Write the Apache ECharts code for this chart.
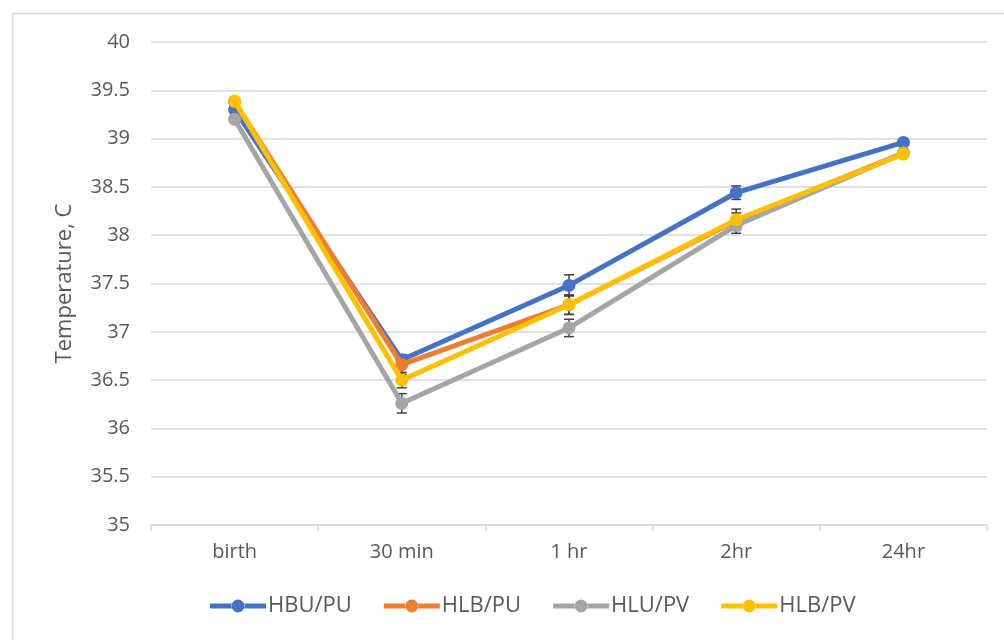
<!DOCTYPE html>
<html><head><meta charset="utf-8">
<script src="https://cdn.jsdelivr.net/npm/echarts@6/dist/echarts.min.js"></script>
<style>html,body{margin:0;padding:0;background:#fff}#c{width:1004px;height:640px}</style>
</head><body><div id="c"></div>
<script>
const categories = ['birth', '30 min', '1 hr', '2hr', '24hr'];
const seriesNames = ['HBU/PU', 'HLB/PU', 'HLU/PV', 'HLB/PV'];
const colors = ['#4472C4', '#ED7D31', '#A5A5A5', '#FFC000'];
const hbuPu = [39.30, 36.71, 37.48, 38.44, 38.96];
const hlbPu = [39.38, 36.66, 37.28, 38.15, 38.85];
const hluPv = [39.20, 36.26, 37.04, 38.10, 38.85];
const hlbPv = [39.39, 36.50, 37.28, 38.16, 38.84];
const hbuPuErr = [0.03, 0.05, 0.11, 0.07, 0.03];
const hlbPuErr = [0.03, 0.10, 0.10, 0.08, 0.03];
const hluPvErr = [0.03, 0.10, 0.09, 0.08, 0.03];
const hlbPvErr = [0.03, 0.08, 0.10, 0.11, 0.03];
const yTicks = [35, 35.5, 36, 36.5, 37, 37.5, 38, 38.5, 39, 39.5, 40];

const values = [hbuPu, hlbPu, hluPv, hlbPv];
const errs = [hbuPuErr, hlbPuErr, hluPvErr, hlbPvErr];
const font = '"Open Sans", "Noto Sans", sans-serif';
const txt = '#595959';
const legendIcon = 'path://M0,4 L22,4 L22,9 L0,9 Z M34,4 L56,4 L56,9 L34,9 Z M21.5,6.5 A6.5,6.5 0 1 0 34.5,6.5 A6.5,6.5 0 1 0 21.5,6.5 Z';

const series = [];
values.forEach((vals, si) => {
  series.push({
    type: 'custom', name: seriesNames[si] + ' err', z: 1,
    renderItem: function (params, api) {
      const x = api.value(0), lo = api.value(1), hi = api.value(2);
      const p1 = api.coord([x, lo]), p2 = api.coord([x, hi]);
      const w = 5;
      const st = {stroke: '#404040', lineWidth: 1.5};
      return {type: 'group', children: [
        {type: 'line', shape: {x1: p1[0], y1: p1[1], x2: p2[0], y2: p2[1]}, style: st},
        {type: 'line', shape: {x1: p1[0] - w, y1: p1[1], x2: p1[0] + w, y2: p1[1]}, style: st},
        {type: 'line', shape: {x1: p2[0] - w, y1: p2[1], x2: p2[0] + w, y2: p2[1]}, style: st}
      ]};
    },
    data: vals.map((v, i) => [i, v - errs[si][i], v + errs[si][i]]),
    silent: true, tooltip: {show: false}
  });
});
values.forEach((vals, si) => {
  series.push({
    type: 'line', name: seriesNames[si], data: vals, z: 2 + si,
    symbol: 'circle', symbolSize: 13,
    lineStyle: {width: 5, color: colors[si]},
    itemStyle: {color: colors[si]},
    animation: false
  });
});

const chart = echarts.init(document.getElementById('c'));
chart.setOption({
  animation: false,
  color: colors,
  graphic: [{type: 'rect', shape: {x: 12.5, y: 13.5, width: 1010, height: 640}, style: {fill: 'none', stroke: '#d9d9d9', lineWidth: 1.5}}],
  grid: {left: 151, right: 17, top: 42, bottom: 115},
  legend: {
    data: seriesNames.map(n => ({name: n, icon: legendIcon})),
    bottom: 18, left: 205, itemWidth: 56, itemHeight: 13, itemGap: 32,
    textStyle: {color: txt, fontSize: 22, fontFamily: font, padding: [0, 0, 0, -3]}
  },
  xAxis: {
    type: 'category', data: categories, boundaryGap: true,
    axisLine: {lineStyle: {color: '#d9d9d9', width: 1.5}},
    axisTick: {show: true, length: 6, lineStyle: {color: '#d9d9d9', width: 1.5}},
    axisLabel: {color: txt, fontSize: 20, fontFamily: font, margin: 17}
  },
  yAxis: {
    type: 'value', min: 35, max: 40, interval: 0.5,
    name: 'Temperature, C', nameLocation: 'middle', nameGap: 75,
    nameTextStyle: {color: txt, fontSize: 22, fontFamily: font},
    axisLine: {show: false}, axisTick: {show: false},
    axisLabel: {color: txt, fontSize: 20, fontFamily: font, margin: 21,
      formatter: v => yTicks.includes(v) ? String(v) : ''},
    splitLine: {lineStyle: {color: '#d9d9d9', width: 1.5}}
  },
  series: series
});
</script></body></html>
